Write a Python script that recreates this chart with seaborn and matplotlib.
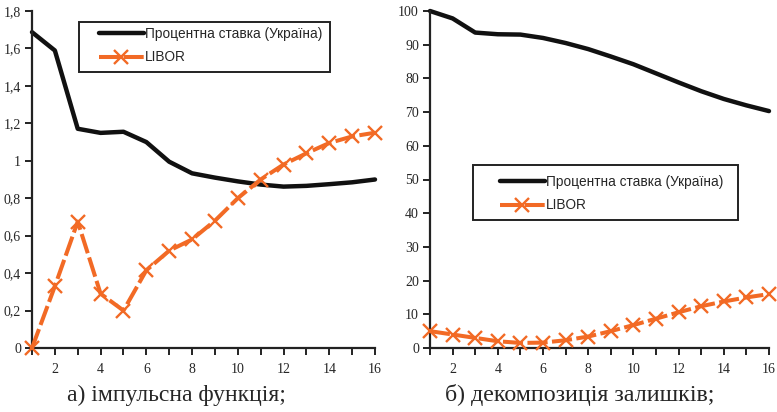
import matplotlib
matplotlib.use("Agg")
import matplotlib.pyplot as plt
import seaborn as sns
import pandas as pd
from matplotlib.ticker import MultipleLocator, FixedLocator
from matplotlib.patches import Rectangle

sns.set_theme(style="ticks")
plt.rcParams['font.family'] = ['Liberation Serif', 'DejaVu Serif']

periods = list(range(1, 17))

# a) impulse response
imp_ukraine = [1.687, 1.589, 1.171, 1.149, 1.155, 1.10, 0.995, 0.933, 0.91, 0.89,
               0.873, 0.862, 0.866, 0.875, 0.885, 0.90]
imp_libor = [0.0, 0.33, 0.675, 0.29, 0.20, 0.415, 0.52, 0.58, 0.68, 0.80,
             0.90, 0.98, 1.04, 1.095, 1.13, 1.15]

# b) variance decomposition
dec_ukraine = [100.0, 97.8, 93.6, 93.1, 93.0, 92.0, 90.5, 88.7, 86.5, 84.2,
               81.5, 78.8, 76.2, 73.9, 72.0, 70.3]
dec_libor = [5.0, 4.0, 3.0, 2.0, 1.5, 1.6, 2.3, 3.4, 5.0, 6.8,
             8.7, 10.6, 12.4, 13.8, 15.0, 16.0]

series_names = ["Процентна ставка (Україна)", "LIBOR"]
captions = ["а) імпульсна функція;", "б) декомпозиція залишків;"]
left_yticks = [0, 0.2, 0.4, 0.6, 0.8, 1.0, 1.2, 1.4, 1.6, 1.8]
left_ylabels = ["0", "0,2", "0,4", "0,6", "0,8", "1", "1,2", "1,4", "1,6", "1,8"]
right_yticks = list(range(0, 101, 10))
x_major = list(range(2, 17, 2))

orange = "#F26A25"
W, H = 777, 412

fig = plt.figure(figsize=(7.77, 4.12), dpi=100)
ax1 = fig.add_axes([32/W, 1-348/H, (375-32)/W, (348-11)/H])
ax2 = fig.add_axes([430/W, 1-348/H, (769-430)/W, (348-11)/H])

def draw(ax, ukr, lib):
    df = pd.DataFrame({"x": periods, "ukr": ukr, "lib": lib})
    sns.lineplot(data=df, x="x", y="ukr", ax=ax, color="#111111", lw=3.2,
                 label=series_names[0], clip_on=False)
    sns.lineplot(data=df, x="x", y="lib", ax=ax, color=orange, lw=2.9,
                 marker="x", markersize=10, markeredgewidth=1.7,
                 markeredgecolor=orange, label=series_names[1],
                 clip_on=False, zorder=3)
    ax.lines[1].set_dashes((5, 1.1))
    ax.set_xlim(1, 16)
    ax.set_xlabel("")
    ax.set_ylabel("")
    sns.despine(ax=ax)
    for s in ["left", "bottom"]:
        ax.spines[s].set_linewidth(1.6)
        ax.spines[s].set_color("#222222")
    ax.xaxis.set_major_locator(FixedLocator(x_major))
    ax.xaxis.set_minor_locator(MultipleLocator(1))
    ax.tick_params(axis="both", which="major", direction="out", length=5,
                   width=1.4, labelsize=10, color="#222222", pad=6)
    ax.tick_params(axis="x", which="minor", direction="out", length=5, width=1.4,
                   color="#222222")
    ax.tick_params(axis="y", pad=3)

draw(ax1, imp_ukraine, imp_libor)
ax1.set_ylim(0, 1.8)
ax1.set_yticks(left_yticks)
ax1.set_yticklabels(left_ylabels)

draw(ax2, dec_ukraine, dec_libor)
ax2.set_ylim(0, 100)
ax2.set_yticks(right_yticks)

def legend(ax, handle_x, mid_y, box):
    leg = ax.legend(loc="center left", bbox_to_anchor=(handle_x/W, 1-mid_y/H),
                    bbox_transform=fig.transFigure, frameon=False,
                    prop={"family": "Liberation Sans", "size": 9.8},
                    handlelength=3.3, handletextpad=0.05, borderpad=0,
                    labelspacing=0.7, borderaxespad=0)
    leg.set_zorder(6)
    x0, y0, x1, y1 = box
    rect = Rectangle((x0/W, 1-y1/H), (x1-x0)/W, (y1-y0)/H,
                     transform=fig.transFigure, fill=True,
                     facecolor="white", edgecolor="#222222",
                     lw=1.4, zorder=5, clip_on=False)
    ax.add_patch(rect)
    return leg

legend(ax1, 99, 45.5, (79, 22, 330, 72))
legend(ax2, 500, 193.5, (473, 165, 738, 220))

fig.text(176/W, 1-395/H, captions[0], ha="center", va="center", fontsize=17)
fig.text(580/W, 1-395/H, captions[1], ha="center", va="center", fontsize=17.3)

fig.savefig("out.png", dpi=100)
